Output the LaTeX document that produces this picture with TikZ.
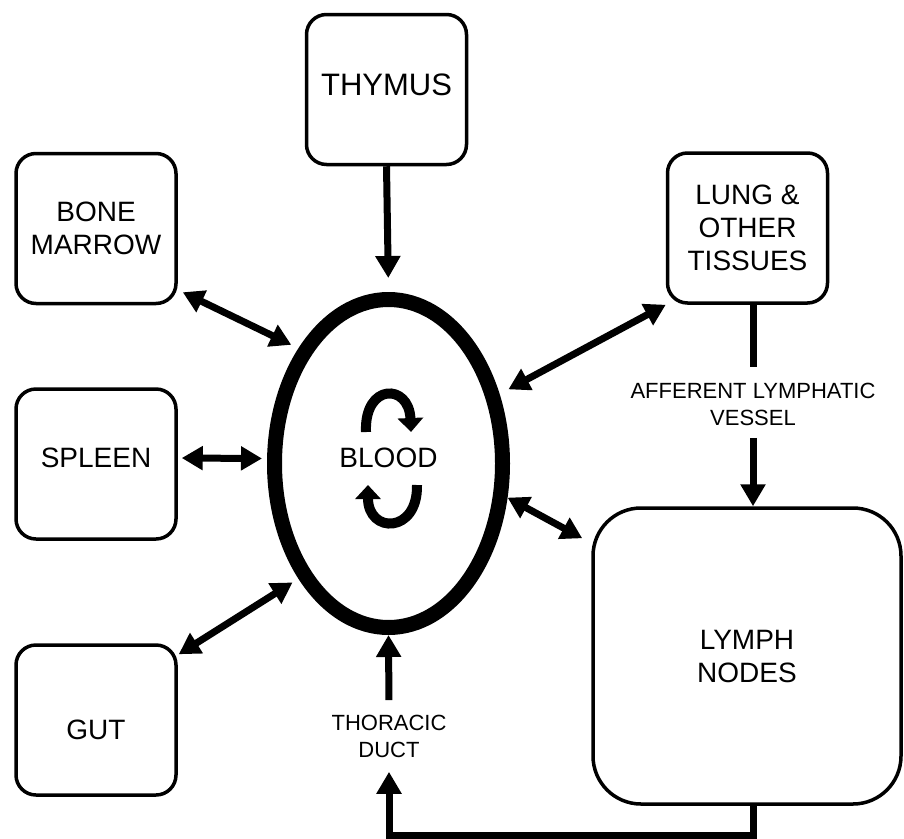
\documentclass[tikz,border=0pt]{standalone}
\usepackage{fontspec}
\setmainfont{Liberation Sans}
\usepackage{tikz}
\usetikzlibrary{shapes.geometric, arrows.meta, positioning, calc}
\definecolor{mydark}{RGB}{0,0,0}
\tikzset{
  organ/.style={rectangle, draw=mydark, fill=white, line width=3.5pt,
    rounded corners=20pt, minimum width=160pt, minimum height=150pt,
    align=center, font=\fontsize{28}{33}\selectfont},
  bigorgan/.style={organ, rounded corners=48pt, minimum width=308pt, minimum height=296pt},
  vessel/.style={ellipse, draw=mydark, line width=15pt, minimum width=228pt,
    minimum height=328pt, inner sep=0pt, font=\fontsize{28}{33}\selectfont},
  tag/.style={align=center, font=\fontsize{22}{27}\selectfont},
  arrow/.style={-{Triangle[length=22pt, width=24pt]}, line width=7pt, color=mydark},
  dblarrow/.style={{Triangle[length=21pt, width=23pt]}-{Triangle[length=21pt, width=23pt]},
    line width=7pt, color=mydark},
  line/.style={line width=7pt, color=mydark},
  swirl/.style={-{Triangle[length=14pt, width=25pt]}, line width=10pt, color=mydark}
}
\begin{document}
\begin{tikzpicture}[x=1pt, y=-1pt]
  \useasboundingbox (0,0) rectangle (904,838);

  \node [organ, font=\fontsize{31}{36}\selectfont, text depth=9pt] (thymus) at (386.5,89.5) {THYMUS};
  \node [organ] (bm) at (96,228.5) {BONE\\MARROW};
  \node [organ] (lung) at (747.5,228) {LUNG \&\\OTHER\\TISSUES};
  \node [organ, text depth=12pt] (spleen) at (96,464) {SPLEEN};
  \node [organ, text height=40pt] (gut) at (96,720) {GUT};
  \node [bigorgan] (lymph) at (747,656) {LYMPH\\NODES};
  \node [vessel, text depth=12pt] (blood) at (388.5,463.5) {BLOOD};

  \node [tag] (aff) at (753,404) {AFFERENT LYMPHATIC\\VESSEL};
  \node [tag] (thor) at (389,736) {THORACIC\\DUCT};

  % into and out of the blood
  \draw [arrow, shorten >=14pt] (thymus.south) -- (blood.north);
  \draw [dblarrow, shorten >=8pt] ([shift={(5pt,13pt)}]bm.south east) -- (blood.128);
  \draw [dblarrow] ([shift={(4pt,6pt)}]spleen.east) -- ([shift={(-5pt,5pt)}]blood.west);
  \draw [dblarrow, shorten >=7pt] ([shift={(1pt,-11pt)}]gut.north east) -- (blood.232);
  \draw [dblarrow, shorten >=10pt] (lung.south west) -- (blood.32);
  \draw [dblarrow] ([shift={(-9pt,-32pt)}]lymph.north west) -- (blood.344);

  % lymph route
  \draw [line, shorten >=12pt] (aff.north |- lung.south) -- (aff.north);
  \draw [arrow, shorten <=9pt] (aff.south) -- (aff.south |- lymph.north);
  \draw [arrow, shorten <=11pt] (thor.north) -- (blood.south);
  \draw [arrow, shorten >=11pt] ([xshift=6pt]lymph.south) -- ++(0,30) -| (thor.south);

  % circulation inside
  \draw [swirl] (366,432) .. controls (364,383) and (409,383) .. (411,432);
  \draw [swirl] (417,485) .. controls (418,534) and (368,534) .. (368,485);
\end{tikzpicture}
\end{document}
